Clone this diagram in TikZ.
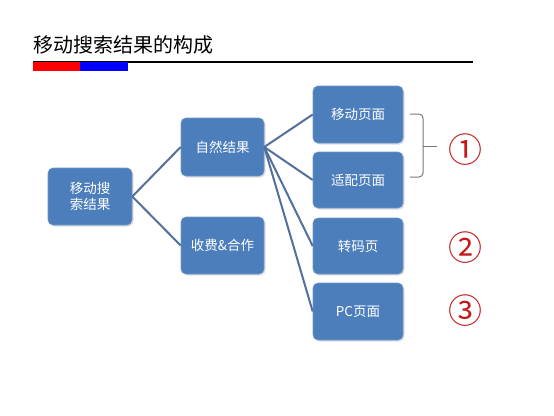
\documentclass[tikz,border=0pt]{standalone}
\usepackage{fontspec}
\newfontfamily\cjk{Noto Sans CJK SC}
\usepackage{tikz}
\usetikzlibrary{positioning, shadows}
\definecolor{boxblue}{RGB}{76,126,188}
\definecolor{boxedge}{RGB}{110,150,200}
\definecolor{linkcol}{RGB}{82,112,155}
\definecolor{bracecol}{RGB}{120,120,120}
\definecolor{numred}{RGB}{195,25,25}

\begin{document}
\begin{tikzpicture}[x=1pt, y=-1pt,
  blk/.style={draw=boxedge, line width=0.6pt, fill=boxblue, rounded corners=5pt,
    text=white, font=\cjk\fontsize{13.5}{16}\selectfont, align=center, inner sep=0pt,
    drop shadow={opacity=0.25, shadow xshift=1.5pt, shadow yshift=-1.5pt}},
  link/.style={draw=linkcol, line width=2pt},
  num/.style={text=numred, font=\cjk\fontsize{34}{34}\selectfont, inner sep=0pt}]
\useasboundingbox (0,0) rectangle (554,415);
% title
\node[anchor=west, inner sep=0pt, font=\cjk\fontsize{20}{20}\selectfont] (title) at (33,45) {移动搜索结果的构成};
\draw [line width=1.2pt] (33,62) -- (473,62);
\fill [red] (33,62) rectangle (80,71);
\fill [blue] (80,62) rectangle (128,71);
% boxes
\node[blk, minimum width=84pt, minimum height=57pt] (root) at (90,196.5) {移动搜\\索结果};
\node[blk, minimum width=83pt, minimum height=58pt] (nat) at (222.5,147) {自然结果};
\node[blk, minimum width=83pt, minimum height=57pt] (fee) at (222.5,245.5) {收费\&合作};
\node[blk, minimum width=90pt, minimum height=57pt] (mob) at (358,114.5) {移动页面};
\node[blk, minimum width=90pt, minimum height=56pt] (fit) at (358,180) {适配页面};
\node[blk, minimum width=90pt, minimum height=56pt] (trans) at (358,246) {转码页};
\node[blk, minimum width=90pt, minimum height=57pt] (pc) at (358,311.5) {PC页面};
% links
\draw [link] (root.east) -- (nat.west);
\draw [link] (root.east) -- (fee.west);
\draw [link] (nat.east) -- (mob.west);
\draw [link] (nat.east) -- (fit.west);
\draw [link] (nat.east) -- (trans.west);
\draw [link] (nat.east) -- (pc.west);
% brace and numbers
\draw [bracecol, line width=1pt, rounded corners=4pt] (410,114) -| (423,146) |- (410,177);
\draw [bracecol, line width=1pt] (423,146) -- (437,146);
\node[num] (n1) at (465,150) {①};
\node[num] (n2) at (465,248) {②};
\node[num] (n3) at (465,311) {③};
\end{tikzpicture}
\end{document}
